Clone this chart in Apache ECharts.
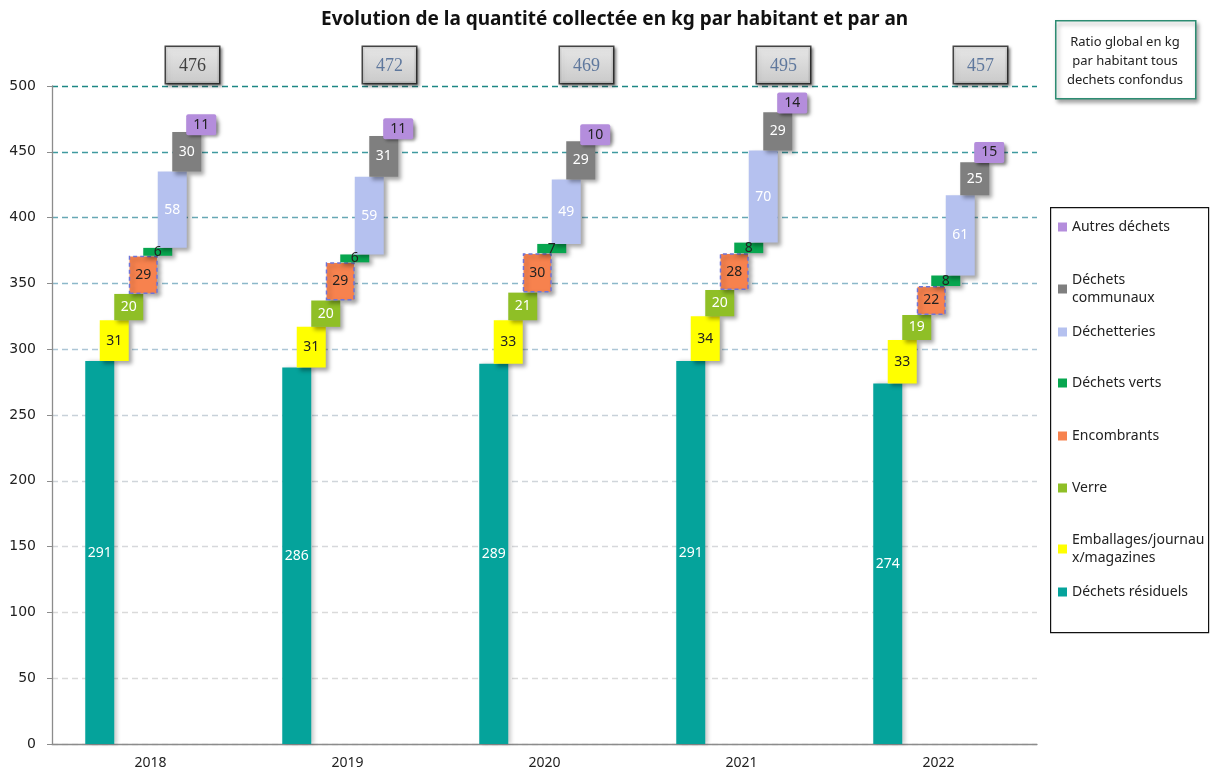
<!DOCTYPE html>
<html>
<head>
<meta charset="utf-8">
<script src="https://cdn.jsdelivr.net/npm/echarts@6/dist/echarts.min.js"></script>
<style>
  html, body { margin: 0; padding: 0; background: #fff; }
  #chart { width: 1210px; height: 777px; }
</style>
</head>
<body>
<div id="chart"></div>
<script>
// données (kg / habitant / an)
var years = ['2018', '2019', '2020', '2021', '2022'];
var residuels = [291, 286, 289, 291, 274];
var emballages = [31, 31, 33, 34, 33];
var verre = [20, 20, 21, 20, 19];
var encombrants = [29, 29, 30, 28, 22];
var verts = [6, 6, 7, 8, 8];
var dechetteries = [58, 59, 49, 70, 61];
var communaux = [30, 31, 29, 29, 25];
var autres = [11, 11, 10, 14, 15];
var totals = [476, 472, 469, 495, 457];

var yTicks = [0, 50, 100, 150, 200, 250, 300, 350, 400, 450, 500];

// ordre d'empilement (du bas vers le haut)
var defs = [
  { name: 'Déchets résiduels', data: residuels, color: '#05a39b', label: '#ffffff' },
  { name: 'Emballages/journaux/magazines', data: emballages, color: '#ffff00', label: '#222222' },
  { name: 'Verre', data: verre, color: '#8fbf26', label: '#ffffff' },
  { name: 'Encombrants', data: encombrants, color: '#f7824e', label: '#222222' },
  { name: 'Déchets verts', data: verts, color: '#07a64f', label: '#222222' },
  { name: 'Déchetteries', data: dechetteries, color: '#b5c1ef', label: '#ffffff' },
  { name: 'Déchets communaux', data: communaux, color: '#7f7f7f', label: '#ffffff' },
  { name: 'Autres déchets', data: autres, color: '#b48ddc', label: '#222222' }
];

var legendText = {
  'Déchets communaux': 'Déchets\ncommunaux',
  'Emballages/journaux/magazines': 'Emballages/journau\nx/magazines'
};

var series = [];
var base = years.map(function () { return 0; });
defs.forEach(function (d, i) {
  var st = 's' + i;
  if (i > 0) {
    series.push({
      type: 'bar', stack: st, barWidth: 29, barGap: '-50%',
      data: base.slice(), silent: true,
      itemStyle: { color: 'rgba(0,0,0,0)' },
      label: { show: false }
    });
  }
  var item = {
    color: d.color,
    shadowColor: 'rgba(0,0,0,0.35)', shadowBlur: 4, shadowOffsetX: 3, shadowOffsetY: 3
  };
  if (d.name === 'Encombrants') {
    item.borderColor = '#6f74d8';
    item.borderWidth = 1.5;
    item.borderType = [4, 3];
  }
  if (i === 0) { item.shadowColor = 'rgba(0,0,0,0.2)'; item.shadowOffsetY = 0; }
  var lab = {
    show: true, position: 'inside', color: d.label,
    fontFamily: 'Noto Sans', fontSize: 14
  };
  if (d.name === 'Autres déchets') {
    // étiquette sur fond violet, plus grande que la barre
    lab.backgroundColor = d.color;
    lab.padding = [4, 7, 3, 7];
    lab.borderRadius = 2;
    lab.shadowColor = 'rgba(0,0,0,0.25)';
    lab.shadowBlur = 3;
    lab.shadowOffsetX = 2;
    lab.shadowOffsetY = 2;
  }
  series.push({
    name: d.name, type: 'bar', stack: st, barWidth: 29, barGap: '-50%',
    data: d.data,
    itemStyle: item,
    label: lab
  });
  base = base.map(function (v, k) { return v + d.data[k]; });
});

// totaux au-dessus du graphique
series.push({
  type: 'scatter', symbolSize: 0, silent: true, z: 10,
  data: years.map(function (y, i) {
    return { value: [y, 500], label: { color: i === 0 ? '#1a1a1a' : '#41608f' } };
  }),
  label: {
    show: true, position: 'top', distance: 3, offset: [42, 0],
    formatter: function (p) { return totals[p.dataIndex]; },
    fontFamily: 'Liberation Serif', fontSize: 18,
    backgroundColor: new echarts.graphic.LinearGradient(0, 0, 0, 1, [
      { offset: 0, color: '#f8f8f8' }, { offset: 1, color: '#d2d2d2' }
    ]),
    borderColor: '#1a1a1a', borderWidth: 1.5,
    padding: [10, 13, 8, 13],
    shadowColor: 'rgba(0,0,0,0.45)', shadowBlur: 3, shadowOffsetX: 2, shadowOffsetY: 2
  }
});

// une légende par entrée pour garder des intervalles réguliers
var legendCenters = [592, 549, 488, 436, 383, 332, 289, 227];
var legends = defs.map(function (d, i) {
  var twoLines = !!legendText[d.name];
  return {
    data: [d.name], orient: 'vertical', left: 1058,
    top: legendCenters[i] - (twoLines ? 18 : 9),
    padding: 0, icon: 'rect', itemWidth: 9, itemHeight: 9,
    selectedMode: false,
    itemStyle: { color: d.color, borderWidth: 0, shadowBlur: 0, shadowOffsetX: 0, shadowOffsetY: 0 },
    formatter: function (n) { return legendText[n] || n; },
    textStyle: { fontFamily: 'Noto Sans', fontSize: 14, color: '#222', lineHeight: 18 }
  };
});

var gridColors = ['#d9d9d9', '#dadada', '#dadada', '#d6d8db', '#d0d5da', '#c8d1d9',
  '#adc6d6', '#8cb8c9', '#67a8b5', '#3f9a9f', '#1d8784'];

var chart = echarts.init(document.getElementById('chart'));
chart.setOption({
  animation: false,
  title: {
    text: 'Evolution de la quantité collectée en kg par habitant et par an',
    left: 316, top: 5,
    textStyle: { fontFamily: 'Noto Sans', fontSize: 19, fontWeight: 'bold', color: '#111' }
  },
  grid: { left: 52, right: 173, top: 86, bottom: 33, containLabel: false },
  legend: legends,
  xAxis: {
    type: 'category', data: years,
    axisLine: { lineStyle: { color: '#8c8c8c', width: 1.3 } },
    axisTick: { show: false },
    axisLabel: { fontFamily: 'Noto Sans', fontSize: 14, color: '#222', margin: 12 }
  },
  yAxis: {
    type: 'value', min: yTicks[0], max: yTicks[yTicks.length - 1], interval: 50,
    axisLine: { show: true, lineStyle: { color: '#8c8c8c', width: 1.3 } },
    axisTick: { show: true, length: 5, lineStyle: { color: '#8c8c8c' } },
    axisLabel: { fontFamily: 'DejaVu Sans', fontSize: 14, color: '#222', margin: 16 },
    splitLine: { lineStyle: { color: gridColors, type: [6, 4], width: 1.3 } }
  },
  graphic: [
    {
      type: 'rect', left: 1050, top: 207, silent: true, z: -1,
      shape: { width: 158, height: 425 },
      style: { fill: '#fff', stroke: '#111', lineWidth: 1.2 }
    },
    {
      type: 'rect', left: 1055, top: 20, silent: true,
      shape: { width: 140, height: 78 },
      style: {
        fill: '#fff', stroke: '#2d8c72', lineWidth: 1.5,
        shadowColor: 'rgba(0,0,0,0.35)', shadowBlur: 4, shadowOffsetX: 2, shadowOffsetY: 3
      }
    },
    {
      type: 'text', x: 1125, y: 61, silent: true,
      style: {
        text: 'Ratio global en kg\npar habitant tous\ndechets confondus',
        align: 'center', verticalAlign: 'middle',
        font: '13px "Noto Sans"', lineHeight: 19, fill: '#222'
      }
    }
  ],
  series: series
});
</script>
</body>
</html>
